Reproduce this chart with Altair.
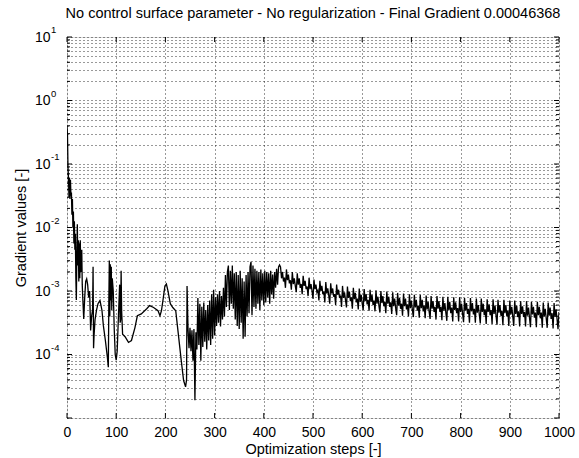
import altair as alt
import pandas as pd

TITLE = "No control surface parameter - No regularization - Final Gradient 0.00046368"
X_TITLE = "Optimization steps [-]"
Y_TITLE = "Gradient values [-]"

# ---- data (log10 of the gradient) ----
# early irregular phase: explicit steps
early_steps = [0, 1, 2, 3, 4, 5, 6, 7, 8, 9, 10, 11, 12, 13, 14, 15, 16, 17, 18, 19,
               20, 21, 22, 23, 24, 25, 26, 27, 28, 30, 31, 32, 34, 36, 38, 40, 42, 44, 46, 48,
               50, 52, 53, 54, 55, 57, 60, 63, 67, 71, 74, 78, 82, 84, 85, 86, 87, 88, 89, 90,
               91, 92, 94, 96, 98, 100, 102, 105, 107, 108, 109, 110, 111, 113, 118, 125, 131, 138, 143, 151,
               162, 168, 176, 185, 189, 192, 195, 199, 202, 205, 210, 215, 221, 226, 232, 237, 241, 243, 244]
early_log = [-0.40, -0.55, -1.05, -1.22, -1.52, -1.22, -1.55, -1.25, -1.50, -1.45, -1.80, -1.55, -2.00, -1.75, -2.25, -1.90, -2.35, -2.10, -2.80, -3.14,
             -2.40, -1.95, -2.60, -2.20, -2.85, -2.25, -2.80, -2.20, -2.70, -2.35, -2.90, -3.10, -3.44, -3.10, -2.85, -2.81, -2.90, -3.10, -3.00, -3.62,
             -3.40, -3.30, -2.62, -3.90, -3.70, -3.45, -3.30, -3.20, -3.15, -3.30, -3.55, -3.78, -4.04, -4.20, -3.20, -2.52, -3.40, -2.58, -3.15, -2.62,
             -3.30, -2.80, -3.00, -3.60, -4.00, -4.09, -3.95, -3.30, -2.90, -3.50, -3.45, -2.68, -3.30, -3.68, -3.72, -3.81, -3.78, -3.58, -3.39, -3.36,
             -3.28, -3.23, -3.26, -3.31, -3.39, -3.31, -3.15, -2.92, -2.89, -2.99, -3.20, -3.26, -3.31, -3.66, -4.08, -4.41, -4.51, -4.40, -2.92]

# dense noisy phase: steps 246, 248, ..., 432
dense_start, dense_stop = 246, 432
dense_log = [-3.60, -3.90, -3.58, -3.95, -3.62, -4.10, -3.60, -4.72, -3.65, -3.92, -3.11,
             -3.85, -3.20, -4.10, -3.25, -3.88, -3.18, -3.80, -3.30, -3.92, -3.22, -3.78, -3.15, -3.85, -3.05, -3.75, -2.98, -3.70,
             -3.10, -3.55, -3.05, -3.50, -3.00, -3.56, -3.08, -3.45, -2.95, -3.40,
             -2.75, -3.25, -2.70, -2.60, -3.30, -2.68, -3.20, -2.60, -3.28, -2.72,
             -3.45, -2.70, -3.55, -2.75, -3.60, -2.68, -3.50, -2.80, -3.75, -2.85, -3.72, -2.75, -3.40, -2.70,
             -3.35, -2.62, -2.54, -3.38, -2.60, -3.25, -2.65,
             -3.28, -2.68, -3.20, -2.70, -3.30, -2.66, -3.15, -2.72, -3.22, -2.68,
             -3.18, -2.70, -3.10, -2.72, -3.20, -2.68, -3.05, -2.74, -3.12, -2.70,
             -2.95, -2.65, -2.90, -2.62, -2.59]

# saw-tooth phase: steps 434, 436, ..., 1000
saw_start, saw_stop = 434, 1000
saw_log = [-2.62, -2.80, -2.70, -2.85, -2.79, -2.95,
           -2.66, -2.83, -2.74, -2.88, -2.83, -2.98,
           -2.70, -2.89, -2.80, -2.92, -3.02,
           -2.72, -2.90, -2.80, -2.95, -2.89, -3.05,
           -2.76, -2.92, -2.84, -2.97, -2.93, -3.08,
           -2.79, -2.97, -2.89, -3.00, -3.12,
           -2.82, -2.97, -2.90, -3.02, -2.99, -3.15,
           -2.84, -3.00, -2.92, -3.05, -3.01, -3.18,
           -2.86, -3.04, -2.96, -3.07, -3.20,
           -2.88, -3.04, -2.96, -3.09, -3.05, -3.22,
           -2.90, -3.06, -2.98, -3.11, -3.07, -3.25,
           -2.92, -3.11, -3.02, -3.14, -3.26,
           -2.93, -3.11, -3.01, -3.16, -3.10, -3.28,
           -2.95, -3.13, -3.03, -3.18, -3.12, -3.29,
           -2.96, -3.17, -3.06, -3.20, -3.30,
           -2.97, -3.16, -3.05, -3.21, -3.14, -3.31,
           -2.98, -3.17, -3.06, -3.22, -3.15, -3.32,
           -2.99, -3.20, -3.09, -3.23, -3.34,
           -3.00, -3.19, -3.08, -3.24, -3.17, -3.35,
           -3.01, -3.20, -3.09, -3.25, -3.18, -3.36,
           -3.02, -3.24, -3.12, -3.27, -3.38,
           -3.03, -3.23, -3.11, -3.28, -3.20, -3.39,
           -3.04, -3.24, -3.12, -3.29, -3.21, -3.40,
           -3.05, -3.27, -3.15, -3.30, -3.41,
           -3.06, -3.26, -3.14, -3.31, -3.23, -3.42,
           -3.06, -3.27, -3.14, -3.32, -3.23, -3.43,
           -3.07, -3.29, -3.17, -3.32, -3.44,
           -3.08, -3.28, -3.16, -3.33, -3.25, -3.45,
           -3.08, -3.28, -3.16, -3.33, -3.25, -3.46,
           -3.09, -3.31, -3.19, -3.34, -3.47,
           -3.09, -3.30, -3.17, -3.35, -3.26, -3.48,
           -3.10, -3.30, -3.18, -3.35, -3.27, -3.48,
           -3.10, -3.33, -3.20, -3.36, -3.49,
           -3.11, -3.31, -3.19, -3.36, -3.28, -3.50,
           -3.11, -3.32, -3.19, -3.37, -3.28, -3.50,
           -3.12, -3.34, -3.22, -3.37, -3.51,
           -3.12, -3.33, -3.20, -3.38, -3.29, -3.52,
           -3.13, -3.33, -3.21, -3.38, -3.30, -3.52,
           -3.13, -3.36, -3.23, -3.39, -3.53,
           -3.14, -3.34, -3.22, -3.39, -3.31, -3.54,
           -3.14, -3.35, -3.22, -3.40, -3.31, -3.55,
           -3.15, -3.37, -3.25, -3.40, -3.55,
           -3.15, -3.36, -3.23, -3.41, -3.32, -3.56,
           -3.16, -3.36, -3.24, -3.41, -3.33, -3.56,
           -3.16, -3.39, -3.26, -3.42, -3.57,
           -3.17, -3.37, -3.25, -3.42, -3.34, -3.57,
           -3.17, -3.38, -3.25, -3.43, -3.34, -3.58,
           -3.18, -3.40, -3.28, -3.43, -3.58,
           -3.18, -3.39, -3.26, -3.44, -3.35, -3.59,
           -3.19, -3.41, -3.29, -3.44, -3.60,
           -3.33]

# axis tick positions / labels
x_ticks = [0, 100, 200, 300, 400, 500, 600, 700, 800, 900, 1000]
y_major = [10, 1, 0.1, 0.01, 0.001, 0.0001, 0.00001]
y_label_vals = [10, 1, 0.1, 0.01, 0.001, 0.0001]
y_exponents = ["1", "0", "-1", "-2", "-3", "-4"]
y_minor = [m * 10.0 ** k for k in range(-5, 1) for m in range(2, 10)]

# ---- build tables ----
steps = (early_steps
         + list(range(dense_start, dense_stop + 1, 2))
         + list(range(saw_start, saw_stop + 1, 2)))
logs = early_log + dense_log + saw_log
assert len(steps) == len(logs), (len(steps), len(logs))
df = pd.DataFrame({"step": steps, "grad": [10.0 ** v for v in logs]})

W, H = 492, 381
FONT = "Liberation Sans"
LBL = 14
TTL = 14.5

xscale = alt.Scale(domain=[0, 1000], nice=False, zero=False)
yscale = alt.Scale(type="log", domain=[1e-5, 10], nice=False)
y_all = sorted(y_major + y_minor)

GRID = dict(gridColor="#000000", gridDash=[1, 3], gridWidth=1, gridOpacity=0.8)

xaxis = alt.Axis(values=x_ticks, format="d", grid=True, ticks=False, domain=False,
                 tickSize=0, labelPadding=7, labelFlush=False,
                 labelOverlap=False, labelFontSize=LBL, labelFont=FONT,
                 labelColor="black", title=X_TITLE, titleFont=FONT,
                 titleFontSize=TTL, titleFontWeight="normal",
                 titleColor="black", titleY=35, titleBaseline="alphabetic",
                 **GRID)
yaxis = alt.Axis(values=y_all, grid=True, ticks=False, domain=False,
                 tickSize=0, labelPadding=17, labelFlush=False,
                 labelOverlap=False, labelBound=False,
                 labelExpr="(abs(log(datum.value)/LN10 - round(log(datum.value)/LN10)) < 1e-6 && datum.value > 2e-5) ? '10' : ''",
                 labelFontSize=LBL, labelFont=FONT, labelColor="black",
                 labelAlign="right", labelBaseline="middle",
                 title=Y_TITLE, titleFont=FONT, titleFontSize=TTL,
                 titleFontWeight="normal", titleColor="black",
                 titleX=-46, titleY=H / 2, titleAngle=-90,
                 titleAlign="center", titleBaseline="middle",
                 **GRID)

line = alt.Chart(df).mark_line(color="black", strokeWidth=1.3, clip=True).encode(
    x=alt.X("step:Q", scale=xscale, axis=xaxis, title=X_TITLE),
    y=alt.Y("grad:Q", scale=yscale, axis=yaxis, title=Y_TITLE),
)

xt = pd.DataFrame({"step": x_ticks})
ymaj = pd.DataFrame({"grad": y_major})
ymin = pd.DataFrame({"grad": y_minor})

def xticks(y0, y1):
    return alt.Chart(xt).mark_rule(color="black", strokeWidth=1).encode(
        x=alt.X("step:Q", scale=xscale, axis=xaxis, title=X_TITLE),
        y=alt.value(y0), y2=alt.value(y1))

def yticks(frame, x0, x1):
    return alt.Chart(frame).mark_rule(color="black", strokeWidth=1).encode(
        y=alt.Y("grad:Q", scale=yscale, axis=yaxis, title=Y_TITLE),
        x=alt.value(x0), x2=alt.value(x1))

sup = alt.Chart(pd.DataFrame({"grad": y_label_vals, "e": y_exponents})).mark_text(
    align="left", baseline="middle", fontSize=9.5, font=FONT, color="black", dy=-7
).encode(
    y=alt.Y("grad:Q", scale=yscale, axis=yaxis, title=Y_TITLE),
    x=alt.value(-16),
    text="e:N",
)

chart = alt.layer(
    line,
    xticks(H, H - 5), xticks(0, 5),
    yticks(ymaj, 0, 5), yticks(ymaj, W - 5, W),
    yticks(ymin, 0, 3), yticks(ymin, W - 3, W),
    sup,
).properties(
    width=W, height=H,
    autosize=alt.AutoSizeParams(type="none"),
    padding={"left": 67, "top": 37, "right": 20, "bottom": 40},
    title=alt.TitleParams(TITLE, font=FONT, fontSize=TTL, fontWeight="normal",
                          color="black", anchor="middle", frame="group",
                          offset=4, dy=11, baseline="alphabetic"),
).configure_view(
    stroke="black", strokeWidth=1
).configure(background="white")

chart.save("out.html", embed_options={"renderer": "svg", "actions": False})
